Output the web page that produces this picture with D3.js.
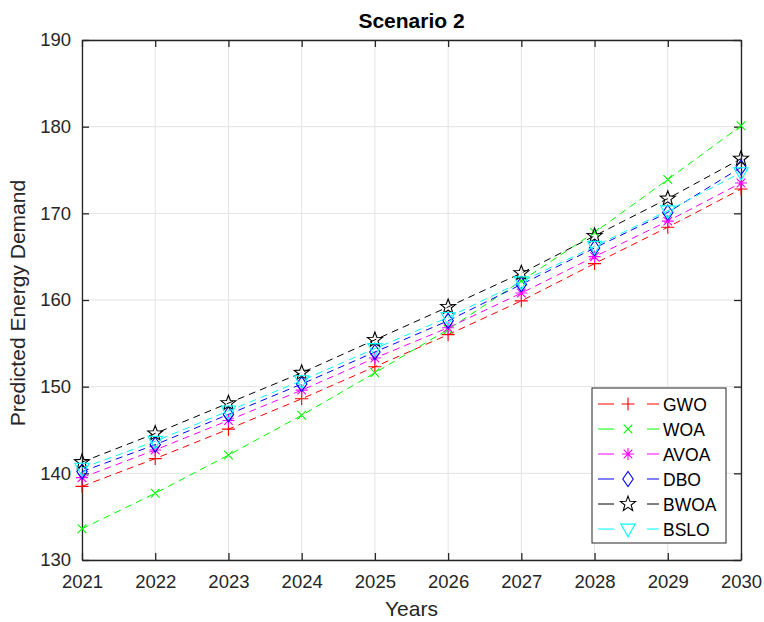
<!DOCTYPE html>
<html>
<head>
<meta charset="utf-8">
<script src="https://cdn.jsdelivr.net/npm/d3@7"></script>
<style>
  html, body { margin: 0; padding: 0; background: #fff; }
  svg { display: block; font-family: "Liberation Sans", Arial, Helvetica, sans-serif; }
</style>
</head>
<body>
<svg id="chart" width="764" height="622"></svg>
<script>
// Forecast years
const years = [2021, 2022, 2023, 2024, 2025, 2026, 2027, 2028, 2029, 2030];

// Predicted demand per optimiser
const gwo  = [138.5, 141.7, 145.1, 148.6, 152.3, 156.0, 159.9, 164.2, 168.4, 172.8];
const woa  = [133.6, 137.7, 142.1, 146.7, 151.6, 156.6, 162.2, 167.8, 173.9, 180.1];
const avoa = [139.5, 142.7, 146.1, 149.6, 153.3, 156.8, 160.8, 165.0, 169.1, 173.5];
const dbo  = [140.2, 143.3, 146.8, 150.3, 154.0, 157.6, 161.8, 166.0, 170.1, 175.3];
const bwoa = [141.3, 144.6, 148.1, 151.6, 155.4, 159.2, 163.1, 167.4, 171.7, 176.3];
const bslo = [140.6, 143.7, 147.2, 150.7, 154.4, 158.0, 162.1, 166.2, 170.3, 174.7];

const seriesNames = ["GWO", "WOA", "AVOA", "DBO", "BWOA", "BSLO"];
const seriesValues = [gwo, woa, avoa, dbo, bwoa, bslo];
const seriesColors = ["#ff0000", "#00ff00", "#ff00ff", "#0000ff", "#000000", "#00ffff"];
const seriesMarkers = ["plus", "cross", "asterisk", "diamond", "star", "triangleDown"];

const yTicks = [130, 140, 150, 160, 170, 180, 190];

const svg = d3.select("#chart");
const box = { left: 82, right: 741, top: 40, bottom: 560 };

const x = d3.scaleLinear().domain([2021, 2030]).range([box.left, box.right]);
const y = d3.scaleLinear().domain([130, 190]).range([box.bottom, box.top]);

const axisColor = "#262626";

// grid
const grid = svg.append("g");
grid.selectAll("line.vx").data(years).join("line")
  .attr("x1", d => x(d)).attr("x2", d => x(d))
  .attr("y1", box.top).attr("y2", box.bottom)
  .attr("stroke", "#e3e3e3").attr("stroke-width", 1);
grid.selectAll("line.hy").data(yTicks).join("line")
  .attr("x1", box.left).attr("x2", box.right)
  .attr("y1", d => y(d)).attr("y2", d => y(d))
  .attr("stroke", "#e3e3e3").attr("stroke-width", 1);

// axes
const tickLen = 7;
const fmt = d3.format("d");
const xAxisB = d3.axisBottom(x).tickValues(years).tickFormat(fmt).tickSizeInner(-tickLen).tickSizeOuter(0).tickPadding(15);
const xAxisT = d3.axisTop(x).tickValues(years).tickFormat("").tickSizeInner(-tickLen).tickSizeOuter(0);
const yAxisL = d3.axisLeft(y).tickValues(yTicks).tickFormat(fmt).tickSizeInner(-tickLen).tickSizeOuter(0).tickPadding(11);
const yAxisR = d3.axisRight(y).tickValues(yTicks).tickFormat("").tickSizeInner(-tickLen).tickSizeOuter(0);

function styleAxis(g) {
  g.selectAll("path").attr("stroke", axisColor).attr("stroke-width", 1.3);
  g.selectAll("line").attr("stroke", axisColor).attr("stroke-width", 1.3);
  g.selectAll("text").attr("fill", axisColor).style("font-size", "18.5px")
    .style("font-family", "'Liberation Sans', Arial, sans-serif");
}
svg.append("g").attr("transform", `translate(0,${box.bottom})`).call(xAxisB).call(styleAxis);
svg.append("g").attr("transform", `translate(0,${box.top})`).call(xAxisT).call(styleAxis);
svg.append("g").attr("transform", `translate(${box.left},0)`).call(yAxisL).call(styleAxis);
svg.append("g").attr("transform", `translate(${box.right},0)`).call(yAxisR).call(styleAxis);

// marker shapes, centred on the origin
function markerPath(kind, s) {
  const r = s / 2;
  switch (kind) {
    case "plus": return `M${-r},0H${r}M0,${-r}V${r}`;
    case "cross": { const q = r * 0.72; return `M${-q},${-q}L${q},${q}M${-q},${q}L${q},${-q}`; }
    case "asterisk": { const q = r * 0.72; return `M${-r},0H${r}M0,${-r}V${r}M${-q},${-q}L${q},${q}M${-q},${q}L${q},${-q}`; }
    case "diamond": return `M0,${-r * 1.15}L${r * 0.8},0L0,${r * 1.15}L${-r * 0.8},0Z`;
    case "triangleDown": return `M${-r * 0.95},${-r * 0.65}L${r * 0.95},${-r * 0.65}L0,${r * 1.05}Z`;
    case "star": {
      const pts = [];
      const R = r * 1.05, ri = R * 0.42;
      for (let i = 0; i < 10; i++) {
        const a = -Math.PI / 2 + i * Math.PI / 5;
        const rr = i % 2 === 0 ? R : ri;
        pts.push([rr * Math.cos(a), rr * Math.sin(a)]);
      }
      return "M" + pts.map(p => p[0].toFixed(2) + "," + p[1].toFixed(2)).join("L") + "Z";
    }
  }
}
const markerSize = { plus: 13, cross: 12, asterisk: 12, diamond: 13, star: 15, triangleDown: 15 };

const line = d3.line().x((d, i) => x(years[i])).y(d => y(d));

const plot = svg.append("g");
seriesValues.forEach((vals, k) => {
  const g = plot.append("g");
  g.append("path").datum(vals)
    .attr("d", line)
    .attr("fill", "none")
    .attr("stroke", seriesColors[k])
    .attr("stroke-width", 1)
    .attr("stroke-dasharray", "7,5");
  g.selectAll("path.m").data(vals).join("path")
    .attr("class", "m")
    .attr("transform", (d, i) => `translate(${x(years[i])},${y(d)})`)
    .attr("d", markerPath(seriesMarkers[k], markerSize[seriesMarkers[k]]))
    .attr("fill", "none")
    .attr("stroke", seriesColors[k])
    .attr("stroke-width", 1.1);
});

// title and axis labels
svg.append("text").attr("x", (box.left + box.right) / 2).attr("y", 28)
  .attr("text-anchor", "middle").attr("fill", "#000")
  .style("font-size", "21px").style("font-weight", "bold")
  .text("Scenario 2");
svg.append("text").attr("x", (box.left + box.right) / 2).attr("y", 616)
  .attr("text-anchor", "middle").attr("fill", axisColor)
  .style("font-size", "21px")
  .text("Years");
svg.append("text")
  .attr("transform", `translate(25,${(box.top + box.bottom) / 2 + 3}) rotate(-90)`)
  .attr("text-anchor", "middle").attr("fill", axisColor)
  .style("font-size", "21px")
  .text("Predicted Energy Demand");

// legend
const lg = svg.append("g");
const lgX = 592, lgY = 388, lgW = 134, lgH = 155;
lg.append("rect").attr("x", lgX).attr("y", lgY).attr("width", lgW).attr("height", lgH)
  .attr("fill", "#fff").attr("stroke", axisColor).attr("stroke-width", 1);
seriesNames.forEach((name, k) => {
  const cy = lgY + 16 + k * 25;
  const row = lg.append("g");
  row.append("line").attr("x1", lgX + 6).attr("x2", lgX + 22).attr("y1", cy).attr("y2", cy)
    .attr("stroke", seriesColors[k]).attr("stroke-width", 1);
  row.append("line").attr("x1", lgX + 55).attr("x2", lgX + 67).attr("y1", cy).attr("y2", cy)
    .attr("stroke", seriesColors[k]).attr("stroke-width", 1);
  row.append("path").attr("transform", `translate(${lgX + 36},${cy})`)
    .attr("d", markerPath(seriesMarkers[k], markerSize[seriesMarkers[k]]))
    .attr("fill", "none").attr("stroke", seriesColors[k]).attr("stroke-width", 1.1);
  row.append("text").attr("x", lgX + 71).attr("y", cy + 6.5)
    .attr("fill", "#000").style("font-size", "17.5px").text(name);
});
</script>
</body>
</html>
